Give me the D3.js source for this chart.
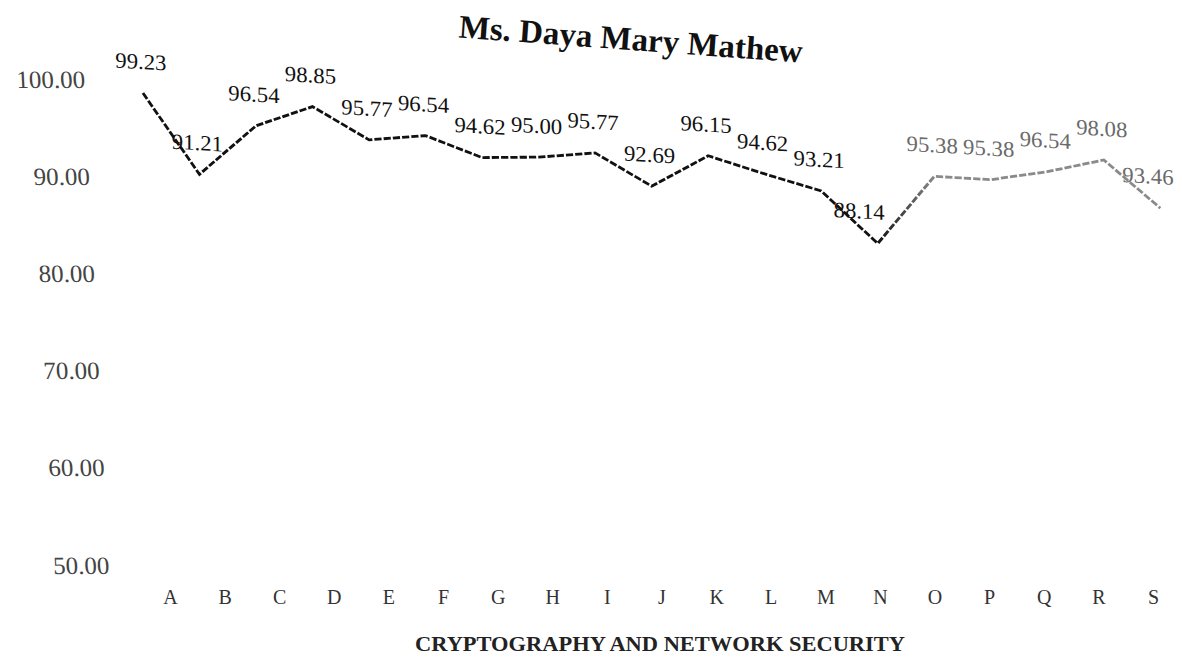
<!DOCTYPE html>
<html>
<head>
<meta charset="utf-8">
<script src="https://cdn.jsdelivr.net/npm/d3@7"></script>
<style>
  html, body { margin: 0; padding: 0; background: #fff; }
  svg { display: block; font-family: "Liberation Serif", "DejaVu Serif", serif; }
</style>
</head>
<body>
<svg id="chart" width="1182" height="660"></svg>
<script>
// données
const categories = ["A","B","C","D","E","F","G","H","I","J","K","L","M","N","O","P","Q","R","S"]
const scores     = [99.23, 91.21, 96.54, 98.85, 95.77, 96.54, 94.62, 95.00, 95.77, 92.69,
                    96.15, 94.62, 93.21, 88.14, 95.38, 95.38, 96.54, 98.08, 93.46]
const yTicks     = [50, 60, 70, 80, 90, 100]
const title      = "Ms. Daya Mary Mathew"
const xTitle     = "CRYPTOGRAPHY AND NETWORK SECURITY"

const svg = d3.select('#chart')

const x = d3.scalePoint().domain(categories).range([170, 1153])
const y = d3.scaleLinear().domain([50, 100]).range([565, 79])

const data = categories.map((c, i) => ({ cat: c, v: scores[i], i }))

// Titre (légèrement penché comme sur le scan)
svg.append('text')
  .attr('x', 630).attr('y', 50)
  .attr('text-anchor', 'middle')
  .attr('font-size', 33).attr('font-weight', 'bold')
  .attr('fill', '#111')
  .attr('transform', 'rotate(4.2, 630, 50)')
  .text(title)

// Axe Y — seulement les libellés
const yAxis = svg.append('g')
  .attr('transform', `translate(87,0) matrix(1,0,0.05,1,${-0.05 * 78},0)`)
  .call(d3.axisLeft(y).tickValues(yTicks).tickFormat(d3.format('.2f')).tickSize(0).tickPadding(2))
yAxis.select('.domain').remove()
yAxis.selectAll('text')
  .attr('font-family', '"Liberation Serif", serif')
  .attr('font-size', 25).attr('fill', '#444')

// Axe X — lettres
const xAxis = svg.append('g')
  .attr('transform', 'translate(0,565)')
  .call(d3.axisBottom(x).tickSize(0).tickPadding(25))
xAxis.select('.domain').remove()
xAxis.selectAll('text')
  .attr('font-family', '"Liberation Serif", serif')
  .attr('font-size', 20).attr('fill', '#333')

svg.append('text')
  .attr('x', 660).attr('y', 651)
  .attr('text-anchor', 'middle')
  .attr('font-size', 22).attr('font-weight', 'bold')
  .attr('textLength', 490).attr('lengthAdjust', 'spacingAndGlyphs')
  .attr('fill', '#222')
  .text(xTitle)

// Courbe + étiquettes, déformées comme la photocopie
const plot = svg.append('g')
  .attr('transform', 'matrix(1.035,0.06,0,1,-33,-3.6)')

const defs = svg.append('defs')
const grad = defs.append('linearGradient').attr('id', 'fade')
  .attr('gradientUnits', 'userSpaceOnUse')
  .attr('x1', x('N')).attr('x2', x('O')).attr('y1', 0).attr('y2', 0)
grad.append('stop').attr('offset', '0%').attr('stop-color', '#111')
grad.append('stop').attr('offset', '100%').attr('stop-color', '#8a8a8a')

plot.append('path')
  .datum(data)
  .attr('fill', 'none')
  .attr('stroke', 'url(#fade)')
  .attr('stroke-width', 2.8)
  .attr('stroke-dasharray', '7,2')
  .attr('d', d3.line().x(d => x(d.cat)).y(d => y(d.v)))

// décalages des étiquettes (N à gauche, S collée au bord)
const labelDx = { N: -18, S: -12 }
plot.selectAll('text.lbl')
  .data(data).join('text')
  .attr('class', 'lbl')
  .attr('x', d => x(d.cat) + (labelDx[d.cat] ?? -2))
  .attr('y', d => y(d.v) - 24)
  .attr('text-anchor', 'middle')
  .attr('font-size', 22)
  .attr('fill', d => d.i >= 14 ? '#6a6a6a' : '#111')
  .text(d => d.v.toFixed(2))
</script>
</body>
</html>
